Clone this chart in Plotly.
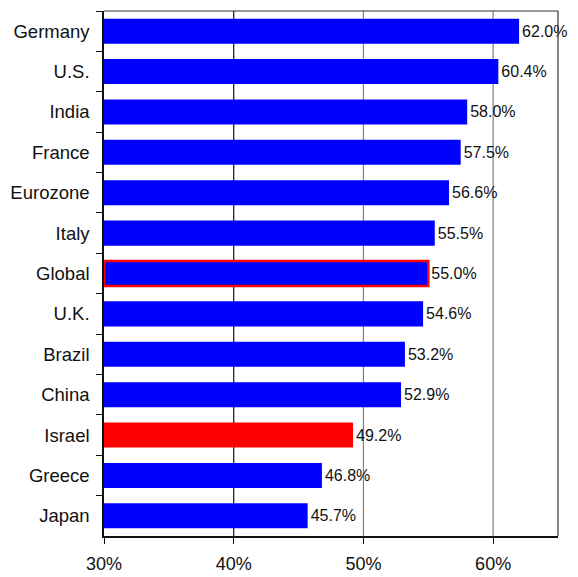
import plotly.graph_objects as go

countries = ["Germany", "U.S.", "India", "France", "Eurozone", "Italy", "Global",
             "U.K.", "Brazil", "China", "Israel", "Greece", "Japan"]
values = [62.0, 60.4, 58.0, 57.5, 56.6, 55.5, 55.0, 54.6, 53.2, 52.9, 49.2, 46.8, 45.7]
x_ticks = [30, 40, 50, 60]
x_tick_labels = ["30%", "40%", "50%", "60%"]

BLUE = "#0000FF"
RED = "#FF0000"
colors = [RED if c == "Israel" else BLUE for c in countries]
line_colors = [RED if c == "Global" else BLUE for c in countries]
line_widths = [2.5 if c == "Global" else 0 for c in countries]

FONT = "Liberation Sans, Arial, sans-serif"

fig = go.Figure()
fig.add_trace(go.Bar(
    y=countries, x=[v - 30 for v in values], base=30, orientation="h",
    marker=dict(color=colors, line=dict(color=line_colors, width=line_widths)),
    width=0.62,
    text=[f"{v:.1f}%" for v in values], textposition="outside",
    textfont=dict(family=FONT, size=16, color="#111111"),
    cliponaxis=False, hoverinfo="skip",
))

# grid lines
grid = [(40, "#111111"), (50, "#808080"), (60, "#808080")]
for gx, gc in grid:
    fig.add_shape(type="line", xref="x", yref="paper", x0=gx, x1=gx, y0=0, y1=1,
                  line=dict(color=gc, width=1.2), layer="below")
# border top/right
fig.add_shape(type="line", xref="paper", yref="paper", x0=0, x1=1, y0=1, y1=1,
              line=dict(color="#333333", width=1.2))
fig.add_shape(type="line", xref="paper", yref="paper", x0=1, x1=1, y0=0, y1=1,
              line=dict(color="#333333", width=1.2))

fig.update_layout(
    width=578, height=577,
    margin=dict(l=104, r=20, t=11, b=41),
    plot_bgcolor="white", paper_bgcolor="white",
    showlegend=False,
    font=dict(family=FONT, color="#111111"),
    xaxis=dict(range=[30, 65], tickvals=x_ticks, ticktext=x_tick_labels,
               showgrid=False, zeroline=False, showline=True, linecolor="#111111",
               linewidth=1.5, ticks="outside", ticklen=6, tickcolor="#111111",
               ticklabelstandoff=5, automargin=False,
               tickfont=dict(size=18, family=FONT)),
    yaxis=dict(autorange="reversed", showgrid=False, zeroline=False,
               showline=True, linecolor="#111111", linewidth=1.5,
               ticks="outside", ticklen=6, tickcolor="#111111",
               ticklabelstandoff=9, automargin=False,
               tickson="boundaries", tickfont=dict(size=18.5, family=FONT)),
)

fig.write_html("out.html")
